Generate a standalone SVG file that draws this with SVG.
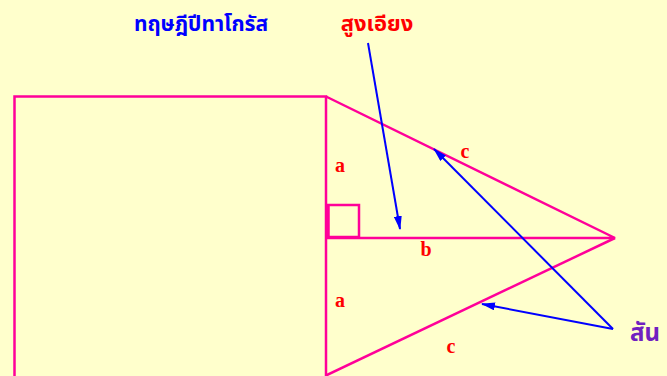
<svg xmlns="http://www.w3.org/2000/svg" width="667" height="376" viewBox="0 0 667 376">
<style>
.edge{fill:none;stroke:#FF0099;stroke-width:2.5}
.lbl{font-family:"Liberation Serif",serif;font-weight:bold;font-size:20px;fill:#FF0000;text-anchor:middle}
.arr{fill:none;stroke:#0000FF;stroke-width:2}
.th{font-family:"Noto Sans Thai","Noto Sans","DejaVu Sans",sans-serif;font-weight:bold}
</style>
<defs>
<marker id="ah" viewBox="0 0 14 8" refX="13" refY="4" markerWidth="7" markerHeight="4" orient="auto" markerUnits="strokeWidth">
<path d="M0,0 L14,4 L0,8 z" fill="#0000FF"/>
</marker>
</defs>
<rect width="667" height="376" fill="#FFFFCC"/>
<g id="square">
<path class="edge" d="M14.5,380 V96.5 H326 V380"/>
</g>
<g id="triangle-top">
<path class="edge" d="M326,96.5 L615,238 H326"/>
<rect class="edge" x="327" y="205" width="32" height="32"/>
<line x1="328" y1="205" x2="328" y2="237" stroke="#FF0099" stroke-width="3.5"/>
</g>
<g id="triangle-bottom">
<path class="edge" d="M615,238 L326,375.5"/>
</g>
<g id="labels">
<text class="lbl" x="340" y="172">a</text>
<text class="lbl" x="340" y="307">a</text>
<text class="lbl" x="426" y="256">b</text>
<text class="lbl" x="465" y="158">c</text>
<text class="lbl" x="451" y="353">c</text>
</g>
<g id="title">
<text class="th" x="201" y="31" font-size="21" fill="#0000FF" text-anchor="middle">ทฤษฎีปีทาโกรัส</text>
</g>
<g id="hyp-label">
<text class="th" x="377" y="31" font-size="22" fill="#FF0000" text-anchor="middle">สูงเอียง</text>
</g>
<g id="edge-label">
<text class="th" x="630" y="341" font-size="24" fill="#7020C0">สัน</text>
</g>
<g id="connectors">
<line class="arr" x1="368" y1="43" x2="400" y2="229" marker-end="url(#ah)"/>
<line class="arr" x1="613" y1="329" x2="434" y2="149" marker-end="url(#ah)"/>
<line class="arr" x1="613" y1="329" x2="482" y2="304" marker-end="url(#ah)"/>
</g>
</svg>
